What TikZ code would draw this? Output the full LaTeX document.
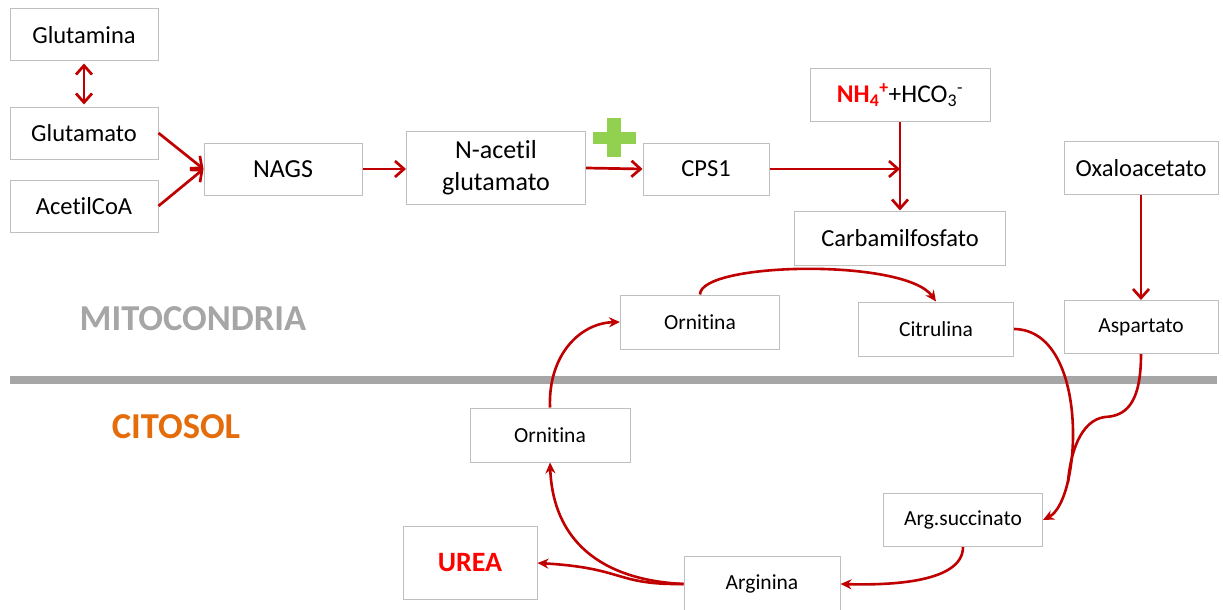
\documentclass[tikz,border=0pt]{standalone}
\usepackage{fontspec}
\setmainfont{Carlito}[Ligatures=NoCommon]
\usetikzlibrary{arrows.meta}
\definecolor{arr}{HTML}{C00000}
\definecolor{bord}{HTML}{BFBFBF}
\definecolor{barg}{HTML}{A6A6A6}
\definecolor{grn}{HTML}{92D050}
\definecolor{orng}{HTML}{E46C0A}
\definecolor{brightred}{HTML}{FF0000}
\begin{document}
\begin{tikzpicture}[x=1pt,y=-1pt,
 bx/.style={draw=bord, line width=1pt, fill=white, inner sep=0pt, align=center, font=\fontsize{24.5}{28}\selectfont},
 sbx/.style={bx, font=\fontsize{21.5}{25}\selectfont},
 ar/.style={draw=arr, line width=2.7pt, -{Straight Barb[length=9pt,width=16pt]}},
 cr/.style={draw=arr, line width=2.6pt, -{Stealth[length=11pt,width=10pt]}},
 cl/.style={draw=arr, line width=2.6pt}]
\useasboundingbox (0,0) rectangle (1223,610);
\fill[white] (0,0) rectangle (1223,610);
\fill[barg] (10,376) rectangle (1217,384);
\node[font=\bfseries\fontsize{36.5}{40}\selectfont, text=barg] (mito) at (193,319) {MITOCONDRIA};
\node[font=\bfseries\fontsize{36.5}{40}\selectfont, text=orng] (cito) at (176,427) {CITOSOL};
\node[bx, minimum width=148pt, minimum height=52pt] (glna) at (84,35) {Glutamina};
\node[bx, minimum width=148pt, minimum height=52pt] (glu) at (84,133) {Glutamato};
\node[bx, minimum width=148pt, minimum height=52pt] (aco) at (84,206) {AcetilCoA};
\node[bx, minimum width=158pt, minimum height=52pt, font=\fontsize{26}{30}\selectfont] (nags) at (283,169) {NAGS};
\node[bx, minimum width=179pt, minimum height=73pt, font=\fontsize{26}{32}\selectfont] (nac) at (496,168) {N-acetil\\glutamato};
\node[bx, minimum width=126pt, minimum height=52pt] (cps) at (706,169) {CPS1};
\node[bx, minimum width=180pt, minimum height=53pt, font=\fontsize{25.5}{29}\selectfont] (nh) at (900,95) {\textcolor{brightred}{\bfseries NH\textsubscript{4}\textsuperscript{+}}+HCO\textsubscript{3}\textsuperscript{-}};
\node[bx, minimum width=211pt, minimum height=54pt] (carb) at (900,238) {Carbamilfosfato};
\node[bx, minimum width=154pt, minimum height=53pt] (oxa) at (1141,168) {Oxaloacetato};
\node[sbx, minimum width=154pt, minimum height=53pt] (asp) at (1141,327) {Aspartato};
\node[sbx, minimum width=159pt, minimum height=54pt] (orn1) at (700,322) {Ornitina};
\node[sbx, minimum width=155pt, minimum height=54pt] (cit) at (936,329) {Citrulina};
\node[sbx, minimum width=160pt, minimum height=54pt] (orn2) at (550,435) {Ornitina};
\node[sbx, minimum width=159pt, minimum height=53pt] (ags) at (963,520) {Arg.succinato};
\node[sbx, minimum width=156pt, minimum height=56pt] (arg) at (762,584) {Arginina};
\node[bx, minimum width=134pt, minimum height=73pt, text=brightred, font=\bfseries\fontsize{28}{32}\selectfont] (urea) at (470,563) {UREA};
\fill[grn] (593,132) rectangle (636,144);
\fill[grn] (607,118) rectangle (621,157);
\draw[ar, {Straight Barb[length=9pt,width=16pt]}-{Straight Barb[length=9pt,width=16pt]}, shorten <=2pt, shorten >=2pt] (glna.south) -- (glu.north);
\draw[ar] (glu.east) -- (nags.west);
\draw[ar] (aco.east) -- (nags.west);
\draw[ar] (nags.east) -- (nags.east -| nac.west);
\draw[ar] (nac.east) -- (cps.west);
\coordinate (j) at (nh.south |- cps.east);
\draw[ar] (cps.east) -- (j);
\draw[ar] (nh.south) -- (carb.north);
\draw[ar] (oxa.south) -- (asp.north);
\draw[cr] (orn1.north) .. controls (700,262) and (905,258) .. (cit.north);
\draw[cr] (orn2.north) .. controls (548,355) and (580,323) .. (orn1.west);
\draw[cr] (cit.east) .. controls (1090,330) and (1082,500) .. (ags.east);
\coordinate (m) at (1068,482);
\draw[cl] (asp.south) .. controls (1141,405) and (1125,416) .. (1105,417) .. controls (1080,420) and (1070,455) .. (m);
\draw[cr] (ags.south) .. controls (963,585) and (880,585) .. (arg.east);
\draw[cr] (arg.west) .. controls (600,580) and (553,540) .. (orn2.south);
\draw[cr] (arg.west) .. controls (615,585) and (625,568) .. (urea.east);
\end{tikzpicture}
\end{document}
